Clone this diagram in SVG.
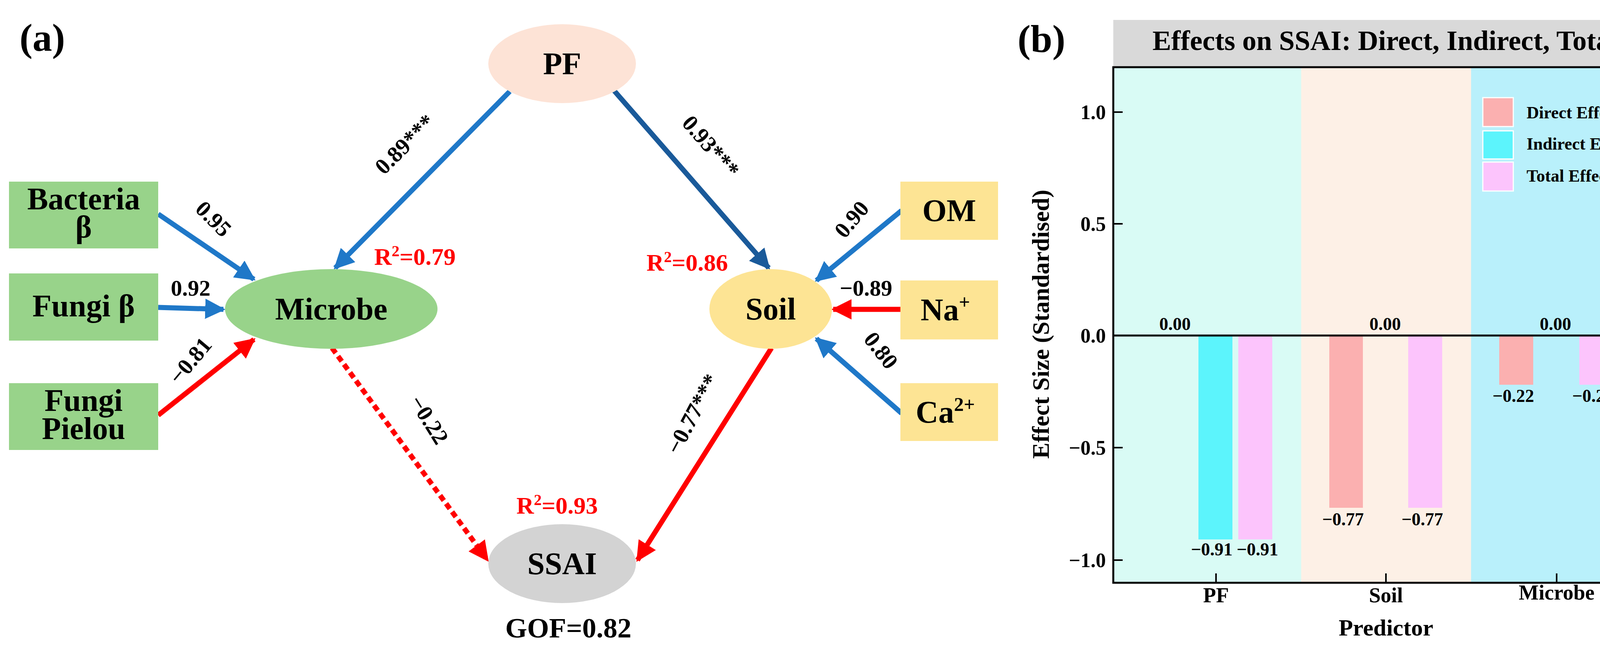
<svg xmlns="http://www.w3.org/2000/svg" width="4277" height="1659" viewBox="0 0 4277 1659">
<style>
text{font-family:"Liberation Serif","Times New Roman",serif;font-weight:bold}
.node{font-size:80px;text-anchor:middle}
.lab{font-size:58px;text-anchor:middle}
.r2{font-size:62px;fill:#ff0000}
.blue{stroke:#1f78c8;stroke-width:13;fill:none}
.dblue{stroke:#1a5a9a;stroke-width:13;fill:none}
.red{stroke:#ff0000;stroke-width:13;fill:none}
.tick{font-size:52px;text-anchor:end}
.val{font-size:46px;text-anchor:middle}
.leg{font-size:44px}
</style>
<defs>
<marker id="ab" viewBox="0 0 10 10" refX="9" refY="5" markerWidth="4" markerHeight="4" orient="auto" markerUnits="strokeWidth"><path d="M0,0L10,5L0,10z" fill="#1f78c8"/></marker>
<marker id="adb" viewBox="0 0 10 10" refX="9" refY="5" markerWidth="4" markerHeight="4" orient="auto" markerUnits="strokeWidth"><path d="M0,0L10,5L0,10z" fill="#1a5a9a"/></marker>
<marker id="ar" viewBox="0 0 10 10" refX="9" refY="5" markerWidth="4" markerHeight="4" orient="auto" markerUnits="strokeWidth"><path d="M0,0L10,5L0,10z" fill="#ff0000"/></marker>
</defs>
<rect width="4277" height="1659" fill="#fff"/>
<text x="50" y="130" style="font-size:100px">(a)</text>

<g id="connectors">
<line class="blue" x1="1305" y1="234" x2="858" y2="686" marker-end="url(#ab)"/>
<line class="dblue" x1="1572" y1="232" x2="1968" y2="686" marker-end="url(#adb)"/>
<line class="blue" x1="405" y1="548" x2="650" y2="715" marker-end="url(#ab)"/>
<line class="blue" x1="405" y1="787" x2="572" y2="792" marker-end="url(#ab)"/>
<line class="red" x1="405" y1="1063" x2="650" y2="869" marker-end="url(#ar)"/>
<line class="red" x1="850" y1="891" x2="1248" y2="1434" stroke-dasharray="16,10" marker-end="url(#ar)"/>
<line class="red" x1="1975" y1="891" x2="1632" y2="1434" marker-end="url(#ar)"/>
<line class="blue" x1="2308" y1="539" x2="2090" y2="718" marker-end="url(#ab)"/>
<line class="red" x1="2308" y1="792" x2="2133" y2="792" marker-end="url(#ar)"/>
<line class="blue" x1="2308" y1="1058" x2="2090" y2="867" marker-end="url(#ab)"/>
<text class="lab" transform="translate(1050,383) rotate(-45)">0.89***</text>
<text class="lab" transform="translate(1805,388) rotate(49)">0.93***</text>
<text class="lab" transform="translate(533,574) rotate(45)">0.95</text>
<text class="lab" x="488" y="757">0.92</text>
<text class="lab" transform="translate(502,936) rotate(-50)">−0.81</text>
<text class="lab" transform="translate(1082,1085) rotate(58)">−0.22</text>
<text class="lab" transform="translate(1790,1069) rotate(-62)">−0.77***</text>
<text class="lab" transform="translate(2195,574) rotate(-50)">0.90</text>
<text class="lab" x="2217" y="757">−0.89</text>
<text class="lab" transform="translate(2240,909) rotate(52)">0.80</text>
</g>

<g id="PF"><ellipse cx="1439" cy="163" rx="189" ry="101" fill="#fde3d6"/><text class="node" x="1439" y="190">PF</text></g>
<g id="Bacteria"><rect x="23" y="465" width="382" height="171" fill="#98d38a"/><text class="node" x="214" y="536">Bacteria</text><text class="node" x="214" y="608">β</text></g>
<g id="FungiB"><rect x="23" y="700" width="382" height="172" fill="#98d38a"/><text class="node" x="214" y="810">Fungi β</text></g>
<g id="FungiPielou"><rect x="23" y="981" width="382" height="171" fill="#98d38a"/><text class="node" x="214" y="1052">Fungi</text><text class="node" x="214" y="1124">Pielou</text></g>
<g id="Microbe"><ellipse cx="848" cy="791" rx="272" ry="102" fill="#98d38a"/><text class="node" x="848" y="818">Microbe</text><text class="r2" x="958" y="678">R<tspan dy="-22" font-size="40">2</tspan><tspan dy="22">=0.79</tspan></text></g>
<g id="Soil"><ellipse cx="1973" cy="791" rx="157" ry="102" fill="#fde494"/><text class="node" x="1973" y="818">Soil</text><text class="r2" x="1655" y="693">R<tspan dy="-22" font-size="40">2</tspan><tspan dy="22">=0.86</tspan></text></g>
<g id="OM"><rect x="2305" y="465" width="250" height="149" fill="#fde494"/><text class="node" x="2430" y="566">OM</text></g>
<g id="Na"><rect x="2305" y="718" width="250" height="151" fill="#fde494"/><text class="node" x="2420" y="820">Na<tspan dy="-30" font-size="50">+</tspan></text></g>
<g id="Ca"><rect x="2305" y="981" width="250" height="148" fill="#fde494"/><text class="node" x="2420" y="1082">Ca<tspan dy="-30" font-size="50">2+</tspan></text></g>
<g id="SSAI"><ellipse cx="1439" cy="1443" rx="189" ry="101" fill="#d3d3d3"/><text class="node" x="1439" y="1470">SSAI</text><text class="r2" x="1322" y="1315">R<tspan dy="-22" font-size="40">2</tspan><tspan dy="22">=0.93</tspan></text></g>
<text x="1455" y="1632" style="font-size:72px;text-anchor:middle">GOF=0.82</text>

<g id="panel-b">
<text x="2605" y="133" style="font-size:100px">(b)</text>
<rect x="2850" y="51" width="1395" height="119" fill="#d9d9d9"/>
<text x="3546" y="128" style="font-size:72px;text-anchor:middle">Effects on SSAI: Direct, Indirect, Total</text>
<rect x="2850" y="172" width="481" height="1320" fill="#d9fbf5"/>
<rect x="3331" y="172" width="435" height="1320" fill="#fdf0e6"/>
<rect x="3766" y="172" width="479" height="1320" fill="#b9f0fb"/>
<rect x="3068" y="859" width="87" height="522" fill="#5cf4fc"/>
<rect x="3170" y="859" width="87" height="522" fill="#fcc4fc"/>
<rect x="3403" y="859" width="86" height="441" fill="#fbb0b0"/>
<rect x="3605" y="859" width="87" height="441" fill="#fcc4fc"/>
<rect x="3838" y="859" width="87" height="126" fill="#fbb0b0"/>
<rect x="4043" y="859" width="87" height="126" fill="#fcc4fc"/>
<line x1="2850" y1="859" x2="4245" y2="859" stroke="#000" stroke-width="5"/>
<rect x="2850" y="172" width="1395" height="1320" fill="none" stroke="#000" stroke-width="5"/>
<g stroke="#000" stroke-width="4">
<line x1="2850" y1="287" x2="2874" y2="287"/><line x1="2850" y1="573" x2="2874" y2="573"/><line x1="2850" y1="859" x2="2874" y2="859"/><line x1="2850" y1="1146" x2="2874" y2="1146"/><line x1="2850" y1="1434" x2="2874" y2="1434"/>
<line x1="3113" y1="1468" x2="3113" y2="1492"/><line x1="3548" y1="1468" x2="3548" y2="1492"/><line x1="3985" y1="1468" x2="3985" y2="1492"/>
</g>
<text class="tick" x="2831" y="305">1.0</text>
<text class="tick" x="2831" y="591">0.5</text>
<text class="tick" x="2831" y="877">0.0</text>
<text class="tick" x="2831" y="1164">−0.5</text>
<text class="tick" x="2831" y="1452">−1.0</text>
<text class="val" x="3008" y="845">0.00</text>
<text class="val" x="3546" y="845">0.00</text>
<text class="val" x="3982" y="845">0.00</text>
<text class="val" x="3102" y="1422">−0.91</text>
<text class="val" x="3219" y="1422">−0.91</text>
<text class="val" x="3438" y="1345">−0.77</text>
<text class="val" x="3641" y="1345">−0.77</text>
<text class="val" x="3874" y="1029">−0.22</text>
<text class="val" x="4078" y="1029">−0.22</text>
<text x="3113" y="1542" style="font-size:54px;text-anchor:middle">PF</text>
<text x="3548" y="1542" style="font-size:54px;text-anchor:middle">Soil</text>
<text x="3985" y="1535" style="font-size:54px;text-anchor:middle">Microbe</text>
<text x="3548" y="1627" style="font-size:60px;text-anchor:middle">Predictor</text>
<text transform="translate(2685,830) rotate(-90)" style="font-size:62px;text-anchor:middle">Effect Size (Standardised)</text>
<g stroke="#fff" stroke-width="3">
<rect x="3796" y="250" width="78" height="74" fill="#fbb0b0"/>
<rect x="3796" y="335" width="78" height="72" fill="#5cf4fc"/>
<rect x="3796" y="415" width="78" height="74" fill="#fcc4fc"/>
</g>
<text class="leg" x="3908" y="303">Direct Effect</text>
<text class="leg" x="3908" y="383">Indirect Effect</text>
<text class="leg" x="3908" y="465">Total Effect</text>
</g>
</svg>
